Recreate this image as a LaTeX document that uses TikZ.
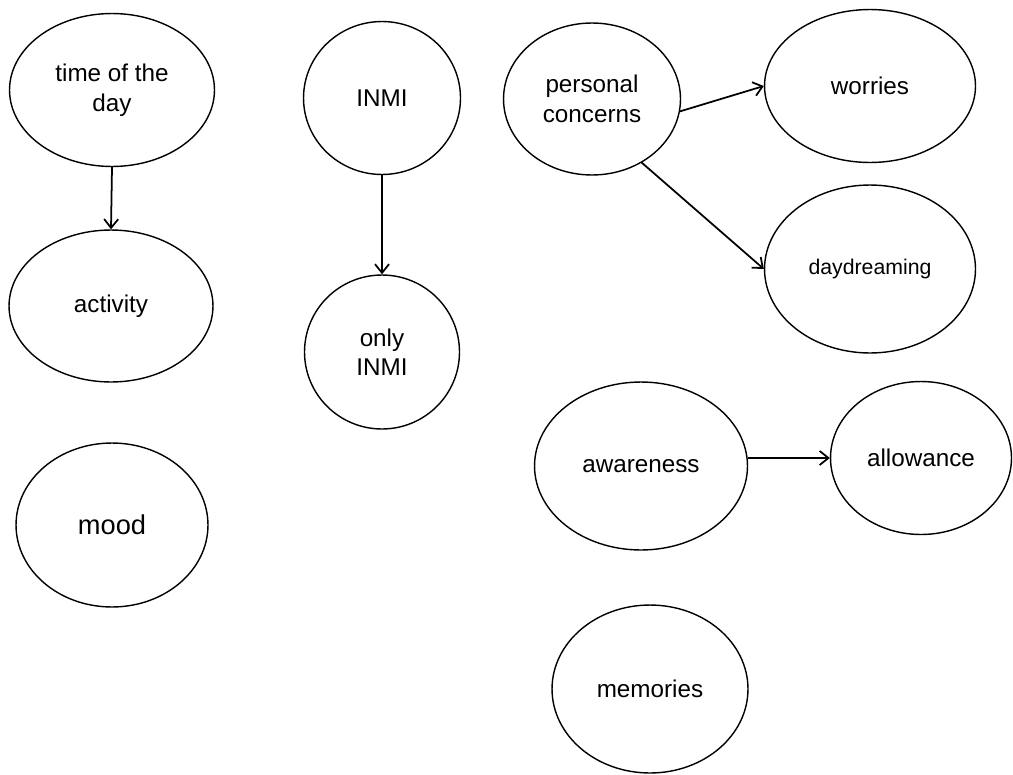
\documentclass[tikz,border=0pt]{standalone}
\usepackage{fontspec}
\setmainfont{Liberation Sans}
\usepackage{tikz}
\usetikzlibrary{positioning,arrows.meta,shapes.geometric}

\begin{document}
\begin{tikzpicture}[
    x=0.02cm, y=-0.02cm,
    bubble/.style 2 args={ellipse, draw, line width=0.8pt, inner sep=0pt,
      minimum width=#1, minimum height=#2, align=center,
      font=\fontsize{13.8}{16.8}\selectfont},
    link/.style={line width=1pt, -{Straight Barb[length=5pt,width=8pt]}}
  ]
  \useasboundingbox (0,0) rectangle (1013,774);

  % Bubbles
  \node[bubble={4.10cm}{3.06cm}] (tod)  at (112,90)  {time of the\\day};
  \node[bubble={4.08cm}{3.04cm}] (act)  at (111,306) {activity};
  \node[bubble={3.84cm}{3.28cm}, font=\fontsize{15.5}{18}\selectfont] (mood) at (112,525) {mood};
  \node[bubble={3.14cm}{3.06cm}] (inmi) at (382,98)  {INMI};
  \node[bubble={3.10cm}{3.08cm}] (only) at (382,352) {only\\INMI};
  \node[bubble={3.54cm}{3.04cm}] (pc)   at (592,99)  {personal\\concerns};
  \node[bubble={4.22cm}{3.06cm}] (wor)  at (870,86)  {worries};
  \node[bubble={4.22cm}{3.36cm}, font=\fontsize{12.1}{14.5}\selectfont] (day) at (870,269) {daydreaming};
  \node[bubble={4.26cm}{3.36cm}] (aw)   at (641,466) {awareness};
  \node[bubble={3.62cm}{3.06cm}] (al)   at (921,458) {allowance};
  \node[bubble={3.92cm}{3.36cm}] (mem)  at (650,689) {memories};

  % Links
  \draw[link] (tod.south) -- (act.north);
  \draw[link] (inmi.south) -- (only.north);
  \draw[link] (pc.-8) -- (wor.west);
  \draw[link] (pc.-52) -- (day.west);
  \draw[link] (aw.east |- al.west) -- (al.west);
\end{tikzpicture}
\end{document}
